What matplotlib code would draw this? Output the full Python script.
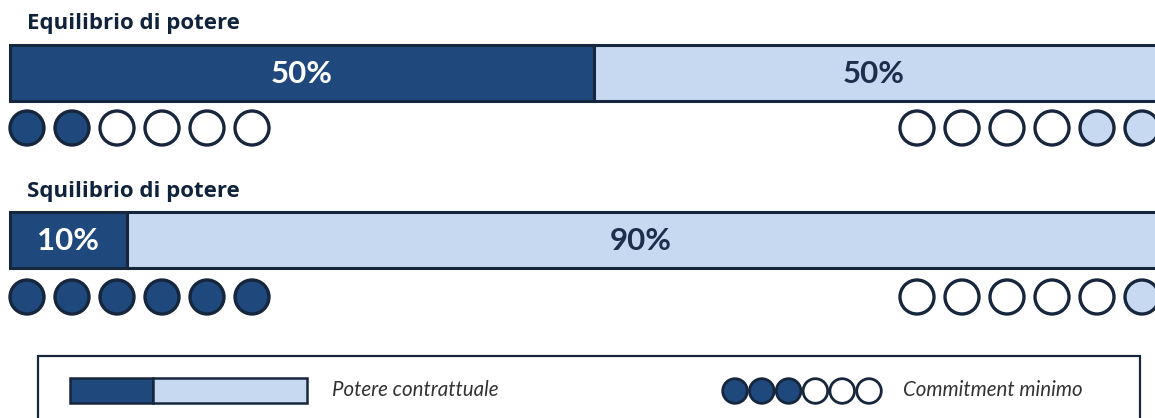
import matplotlib.pyplot as plt
from matplotlib.patches import Rectangle, Circle

# dati
titles = ["Equilibrio di potere", "Squilibrio di potere"]
shares = [[50, 50], [10, 90]]          # potere contrattuale (%)
left_filled = [2, 6]                    # commitment parte sinistra (su 6)
right_filled = [2, 1]                   # commitment parte destra (su 6)
n_dots = 6
legend_share = [35, 65]
legend_filled = 3
legend_labels = ["Potere contrattuale", "Commitment minimo"]

dark = "#1F497D"
light = "#C6D9F1"
edge = "#16263d"

plt.rcParams['font.family'] = ['Lato', 'DejaVu Sans']

fig = plt.figure(figsize=(11.55, 4.18), dpi=100)
ax = fig.add_axes([0, 0, 1, 1])
ax.set_xlim(0, 1155)
ax.set_ylim(418, 0)
ax.axis('off')

bar_x0 = 10
bar_w = 1168
bar_tops = [45, 212]
bar_h = 56
title_y = [23, 191]
dot_y = [128, 297]
dot_r = 17
dot_step = 45

for k in range(2):
    ax.text(27, title_y[k], titles[k], fontsize=16, fontweight='bold',
            family=['Open Sans', 'DejaVu Sans'],
            color='#10233d', va='center', ha='left')
    x = bar_x0
    for j, s in enumerate(shares[k]):
        w = bar_w * s / 100
        ax.add_patch(Rectangle((x, bar_tops[k]), w, bar_h,
                               facecolor=dark if j == 0 else light,
                               edgecolor=edge, linewidth=2.2))
        cx = x + w / 2
        ax.text(cx - (12 if j == 1 else 0), bar_tops[k] + bar_h / 2 + 1, f"{s}%",
                fontsize=22.5, fontweight='bold',
                color='white' if j == 0 else '#1b2f4d',
                ha='center', va='center')
        x += w
    # cerchi sinistra
    for i in range(n_dots):
        ax.add_patch(Circle((27 + i * dot_step, dot_y[k]), dot_r,
                            facecolor=dark if i < left_filled[k] else 'white',
                            edgecolor=edge, linewidth=2.4))
    # cerchi destra
    for i in range(n_dots):
        fill = light if i >= n_dots - right_filled[k] else 'white'
        ax.add_patch(Circle((917 + i * dot_step, dot_y[k]), dot_r,
                            facecolor=fill, edgecolor=edge, linewidth=2.4))

# legenda
ax.add_patch(Rectangle((38, 356), 1102, 90, facecolor='white',
                       edgecolor=edge, linewidth=1.6))
lx = 70
lw = 237
for j, s in enumerate(legend_share):
    w = lw * s / 100
    ax.add_patch(Rectangle((lx, 378), w, 25, facecolor=dark if j == 0 else light,
                           edgecolor=edge, linewidth=1.8))
    lx += w
ax.text(332, 390, legend_labels[0], fontsize=14.8, style='italic',
        color='#333333', ha='left', va='center')
for i in range(n_dots):
    ax.add_patch(Circle((735 + i * 26.8, 391), 12.3,
                        facecolor=dark if i < legend_filled else 'white',
                        edgecolor=edge, linewidth=2))
ax.text(903, 390, legend_labels[1], fontsize=14.8, style='italic',
        color='#333333', ha='left', va='center')

fig.savefig("out.png", dpi=100)
